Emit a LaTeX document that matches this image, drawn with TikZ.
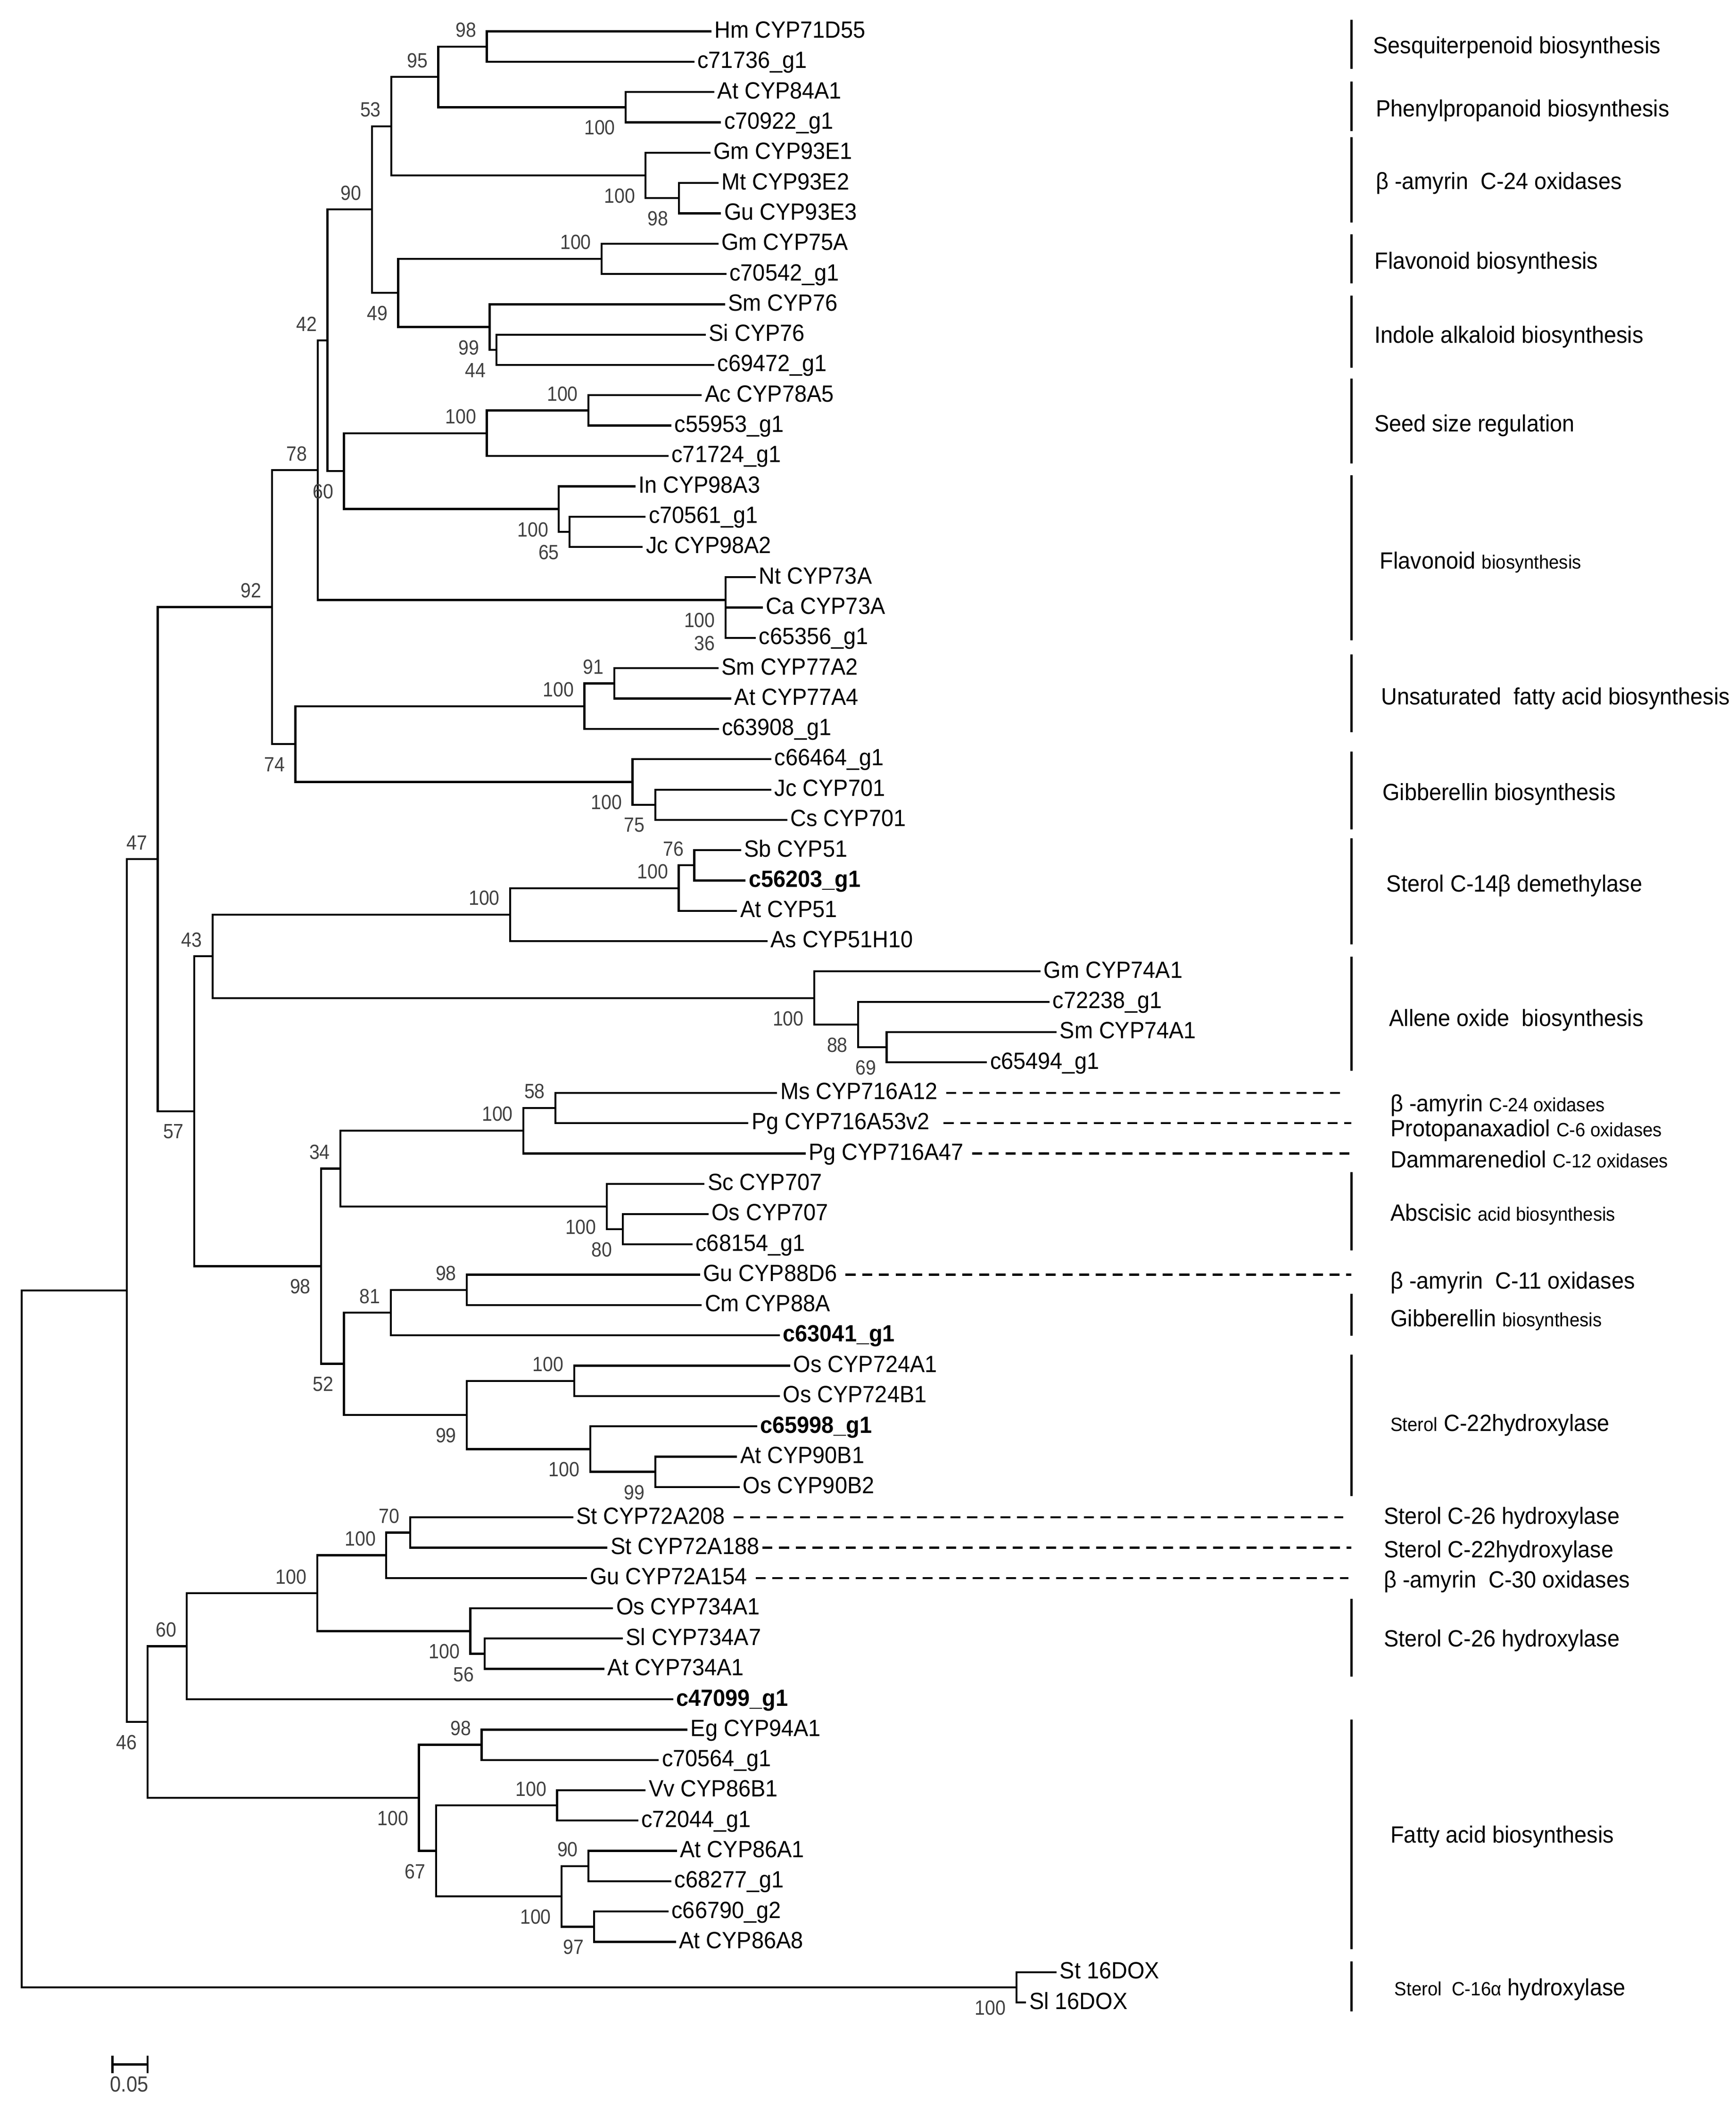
\documentclass[tikz,border=0pt]{standalone}
\usepackage{fontspec}
\setmainfont{Liberation Sans}[FakeStretch=0.94]
\newfontfamily\bsfont{Liberation Sans}[FakeStretch=0.9]
\usepackage{tikz}
\usetikzlibrary{positioning}
\newcommand{\smtxt}[1]{{\fontsize{7.2}{8}\selectfont #1}}
\tikzset{branch/.style={line width=0.75pt}}
\tikzset{leaf/.style={anchor=west, inner xsep=1pt, inner ysep=0pt, text height=6.3pt, text depth=1.4pt, font=\fontsize{8.8}{10}\selectfont}}
\tikzset{leafb/.style={leaf, font=\fontsize{8.8}{10}\selectfont\bfseries}}
\tikzset{bslab/.style={inner sep=0pt, text=black!75, font=\bsfont\fontsize{7.7}{9}\selectfont, xshift=-3.75pt}}
\tikzset{bsup/.style={bslab, anchor=south east, yshift=3.25pt}}
\tikzset{bslo/.style={bslab, anchor=north east, yshift=-4.75pt}}
\tikzset{annot/.style={anchor=west, inner sep=0pt, text height=6.3pt, text depth=0pt, font=\fontsize{8.8}{10}\selectfont}}
\tikzset{dashlink/.style={line width=0.75pt, dash pattern=on 3.75pt off 2.5pt, shorten <=2pt}}
\tikzset{groupbar/.style={line width=0.9pt}}

\begin{document}
\begin{tikzpicture}[x=0.5pt, y=-0.5pt]
    \useasboundingbox (0,0) rectangle (1300.1,1579.4);

    % leaves
    \node [leaf](L1) at (532.7,23.5){Hm CYP71D55};
    \node [leaf](L2) at (520.0,46.2){c71736\_g1};
    \node [leaf](L3) at (535.0,68.9){At CYP84A1};
    \node [leaf](L4) at (540.0,91.6){c70922\_g1};
    \node [leaf](L5) at (532.0,114.3){Gm CYP93E1};
    \node [leaf](L6) at (538.0,137.1){Mt CYP93E2};
    \node [leaf](L7) at (540.0,159.8){Gu CYP93E3};
    \node [leaf](L8) at (538.0,182.5){Gm CYP75A};
    \node [leaf](L9) at (544.0,205.2){c70542\_g1};
    \node [leaf](L10) at (543.0,227.9){Sm CYP76};
    \node [leaf](L11) at (528.5,250.6){Si CYP76};
    \node [leaf](L12) at (535.0,273.3){c69472\_g1};
    \node [leaf](L13) at (525.5,296.0){Ac CYP78A5};
    \node [leaf](L14) at (502.8,318.7){c55953\_g1};
    \node [leaf](L15) at (500.6,341.4){c71724\_g1};
    \node [leaf](L16) at (475.8,364.2){In CYP98A3};
    \node [leaf](L17) at (483.5,386.9){c70561\_g1};
    \node [leaf](L18) at (481.4,409.6){Jc CYP98A2};
    \node [leaf](L19) at (566.0,432.3){Nt CYP73A};
    \node [leaf](L20) at (571.3,455.0){Ca CYP73A};
    \node [leaf](L21) at (566.0,477.7){c65356\_g1};
    \node [leaf](L22) at (538.0,500.4){Sm CYP77A2};
    \node [leaf](L23) at (547.7,523.1){At CYP77A4};
    \node [leaf](L24) at (538.3,545.8){c63908\_g1};
    \node [leaf](L25) at (577.7,568.5){c66464\_g1};
    \node [leaf](L26) at (577.7,591.3){Jc CYP701};
    \node [leaf](L27) at (589.6,614.0){Cs CYP701};
    \node [leaf](L28) at (555.0,636.7){Sb CYP51};
    \node [leafb](L29) at (558.4,659.4){c56203\_g1};
    \node [leaf](L30) at (552.0,682.1){At CYP51};
    \node [leaf](L31) at (574.7,704.8){As CYP51H10};
    \node [leaf](L32) at (779.3,727.5){Gm CYP74A1};
    \node [leaf](L33) at (786.0,750.2){c72238\_g1};
    \node [leaf](L34) at (791.3,772.9){Sm CYP74A1};
    \node [leaf](L35) at (739.1,795.6){c65494\_g1};
    \node [leaf](L36) at (582.0,818.4){Ms CYP716A12};
    \node [leaf](L37) at (560.5,841.1){Pg CYP716A53v2};
    \node [leaf](L38) at (603.3,863.8){Pg CYP716A47};
    \node [leaf](L39) at (527.6,886.5){Sc CYP707};
    \node [leaf](L40) at (530.6,909.2){Os CYP707};
    \node [leaf](L41) at (518.6,931.9){c68154\_g1};
    \node [leaf](L42) at (524.2,954.6){Gu CYP88D6};
    \node [leaf](L43) at (525.5,977.3){Cm CYP88A};
    \node [leafb](L44) at (584.0,1000.0){c63041\_g1};
    \node [leaf](L45) at (591.8,1022.7){Os CYP724A1};
    \node [leaf](L46) at (584.0,1045.5){Os CYP724B1};
    \node [leafb](L47) at (567.0,1068.2){c65998\_g1};
    \node [leaf](L48) at (552.0,1090.9){At CYP90B1};
    \node [leaf](L49) at (554.0,1113.6){Os CYP90B2};
    \node [leaf](L50) at (429.2,1136.3){St CYP72A208};
    \node [leaf](L51) at (454.9,1159.0){St CYP72A188};
    \node [leaf](L52) at (439.5,1181.7){Gu CYP72A154};
    \node [leaf](L53) at (459.1,1204.4){Os CYP734A1};
    \node [leaf](L54) at (466.4,1227.1){Sl CYP734A7};
    \node [leaf](L55) at (452.7,1249.8){At CYP734A1};
    \node [leafb](L56) at (504.1,1272.6){c47099\_g1};
    \node [leaf](L57) at (514.8,1295.3){Eg CYP94A1};
    \node [leaf](L58) at (493.4,1318.0){c70564\_g1};
    \node [leaf](L59) at (483.5,1340.7){Vv CYP86B1};
    \node [leaf](L60) at (478.0,1363.4){c72044\_g1};
    \node [leaf](L61) at (507.0,1386.1){At CYP86A1};
    \node [leaf](L62) at (502.8,1408.8){c68277\_g1};
    \node [leaf](L63) at (500.6,1431.5){c66790\_g2};
    \node [leaf](L64) at (506.2,1454.2){At CYP86A8};
    \node [leaf](L65) at (791.3,1476.9){St 16DOX};
    \node [leaf](L66) at (768.4,1499.7){Sl 16DOX};

    % internal nodes
    \coordinate (root) at (16.3,1227.4);
    \coordinate (nA) at (95.0,966.5);
    \coordinate (n47) at (118.1,643.4);
    \coordinate (n92) at (203.7,454.6);
    \coordinate (n78) at (237.9,352.1);
    \coordinate (n42) at (245.2,254.9);
    \coordinate (n90) at (278.6,156.9);
    \coordinate (n53) at (293.1,94.5);
    \coordinate (n95) at (328.2,57.6);
    \coordinate (n98a) at (364.6,34.9);
    \coordinate (n100a) at (468.6,80.3);
    \coordinate (n100b) at (483.5,131.4);
    \coordinate (n98b) at (508.4,148.4);
    \coordinate (n49) at (298.2,219.4);
    \coordinate (n100c) at (450.6,193.8);
    \coordinate (n99a) at (366.7,244.9);
    \coordinate (n44) at (371.8,262.0);
    \coordinate (n60a) at (257.6,352.8);
    \coordinate (n100e) at (364.6,324.4);
    \coordinate (n100d) at (440.7,307.4);
    \coordinate (n100f) at (418.5,381.2);
    \coordinate (n65) at (426.6,398.2);
    \coordinate (n100g) at (543.4,449.3);
    \coordinate (n36) at (543.4,466.4);
    \coordinate (n74) at (221.2,557.2);
    \coordinate (n100h) at (437.7,528.8);
    \coordinate (n91) at (460.0,511.8);
    \coordinate (n100i) at (473.7,585.6);
    \coordinate (n75) at (490.8,602.6);
    \coordinate (n57) at (145.5,832.2);
    \coordinate (n43) at (159.2,716.2);
    \coordinate (n100k) at (382.1,684.9);
    \coordinate (n100j) at (508.3,665.1);
    \coordinate (n76) at (519.9,648.0);
    \coordinate (n100l) at (609.8,747.4);
    \coordinate (n88) at (642.7,767.3);
    \coordinate (n69) at (664.0,784.3);
    \coordinate (n98d) at (240.5,948.2);
    \coordinate (n34) at (255.0,875.1);
    \coordinate (n100m) at (392.0,846.7);
    \coordinate (n58) at (416.0,829.7);
    \coordinate (n100n) at (454.4,903.5);
    \coordinate (n80) at (466.4,920.6);
    \coordinate (n52) at (257.6,1021.3);
    \coordinate (n81) at (292.7,983.0);
    \coordinate (n98c) at (349.6,966.0);
    \coordinate (n99c) at (349.6,1059.7);
    \coordinate (n100o) at (430.0,1034.1);
    \coordinate (n100p) at (442.0,1085.2);
    \coordinate (n99b) at (490.8,1102.2);
    \coordinate (n46) at (110.4,1289.6);
    \coordinate (n60b) at (139.9,1232.8);
    \coordinate (n100s) at (237.5,1193.1);
    \coordinate (n100q) at (289.3,1164.7);
    \coordinate (n70) at (307.2,1147.7);
    \coordinate (n100r) at (352.2,1221.5);
    \coordinate (n56) at (362.9,1238.5);
    \coordinate (n100v) at (313.7,1346.4);
    \coordinate (n98e) at (360.7,1306.6);
    \coordinate (n67) at (326.5,1386.1);
    \coordinate (n100t) at (417.2,1352.0);
    \coordinate (n100u) at (420.6,1420.2);
    \coordinate (n90b) at (440.7,1397.5);
    \coordinate (n97) at (445.0,1442.9);
    \coordinate (n100w) at (761.2,1488.3);

    % branches
    \draw[branch] (root) |- (nA);
    \draw[branch] (root) |- (n100w);
    \draw[branch] (nA) |- (n47);
    \draw[branch] (nA) |- (n46);
    \draw[branch] (n47) |- (n92);
    \draw[branch] (n47) |- (n57);
    \draw[branch] (n92) |- (n78);
    \draw[branch] (n92) |- (n74);
    \draw[branch] (n78) |- (n42);
    \draw[branch] (n78) |- (n100g);
    \draw[branch] (n42) |- (n90);
    \draw[branch] (n42) |- (n60a);
    \draw[branch] (n90) |- (n53);
    \draw[branch] (n90) |- (n49);
    \draw[branch] (n53) |- (n95);
    \draw[branch] (n53) |- (n100b);
    \draw[branch] (n95) |- (n98a);
    \draw[branch] (n95) |- (n100a);
    \draw[branch] (n98a) |- (L1);
    \draw[branch] (n98a) |- (L2);
    \draw[branch] (n100a) |- (L3);
    \draw[branch] (n100a) |- (L4);
    \draw[branch] (n100b) |- (L5);
    \draw[branch] (n100b) |- (n98b);
    \draw[branch] (n98b) |- (L6);
    \draw[branch] (n98b) |- (L7);
    \draw[branch] (n49) |- (n100c);
    \draw[branch] (n49) |- (n99a);
    \draw[branch] (n100c) |- (L8);
    \draw[branch] (n100c) |- (L9);
    \draw[branch] (n99a) |- (L10);
    \draw[branch] (n99a) |- (n44);
    \draw[branch] (n44) |- (L11);
    \draw[branch] (n44) |- (L12);
    \draw[branch] (n60a) |- (n100e);
    \draw[branch] (n60a) |- (n100f);
    \draw[branch] (n100e) |- (n100d);
    \draw[branch] (n100e) |- (L15);
    \draw[branch] (n100d) |- (L13);
    \draw[branch] (n100d) |- (L14);
    \draw[branch] (n100f) |- (L16);
    \draw[branch] (n100f) |- (n65);
    \draw[branch] (n65) |- (L17);
    \draw[branch] (n65) |- (L18);
    \draw[branch] (n100g) |- (L19);
    \draw[branch] (n100g) |- (n36);
    \draw[branch] (n36) |- (L20);
    \draw[branch] (n36) |- (L21);
    \draw[branch] (n74) |- (n100h);
    \draw[branch] (n74) |- (n100i);
    \draw[branch] (n100h) |- (n91);
    \draw[branch] (n100h) |- (L24);
    \draw[branch] (n91) |- (L22);
    \draw[branch] (n91) |- (L23);
    \draw[branch] (n100i) |- (L25);
    \draw[branch] (n100i) |- (n75);
    \draw[branch] (n75) |- (L26);
    \draw[branch] (n75) |- (L27);
    \draw[branch] (n57) |- (n43);
    \draw[branch] (n57) |- (n98d);
    \draw[branch] (n43) |- (n100k);
    \draw[branch] (n43) |- (n100l);
    \draw[branch] (n100k) |- (n100j);
    \draw[branch] (n100k) |- (L31);
    \draw[branch] (n100j) |- (n76);
    \draw[branch] (n100j) |- (L30);
    \draw[branch] (n76) |- (L28);
    \draw[branch] (n76) |- (L29);
    \draw[branch] (n100l) |- (L32);
    \draw[branch] (n100l) |- (n88);
    \draw[branch] (n88) |- (L33);
    \draw[branch] (n88) |- (n69);
    \draw[branch] (n69) |- (L34);
    \draw[branch] (n69) |- (L35);
    \draw[branch] (n98d) |- (n34);
    \draw[branch] (n98d) |- (n52);
    \draw[branch] (n34) |- (n100m);
    \draw[branch] (n34) |- (n100n);
    \draw[branch] (n100m) |- (n58);
    \draw[branch] (n100m) |- (L38);
    \draw[branch] (n58) |- (L36);
    \draw[branch] (n58) |- (L37);
    \draw[branch] (n100n) |- (L39);
    \draw[branch] (n100n) |- (n80);
    \draw[branch] (n80) |- (L40);
    \draw[branch] (n80) |- (L41);
    \draw[branch] (n52) |- (n81);
    \draw[branch] (n52) |- (n99c);
    \draw[branch] (n81) |- (n98c);
    \draw[branch] (n81) |- (L44);
    \draw[branch] (n98c) |- (L42);
    \draw[branch] (n98c) |- (L43);
    \draw[branch] (n99c) |- (n100o);
    \draw[branch] (n99c) |- (n100p);
    \draw[branch] (n100o) |- (L45);
    \draw[branch] (n100o) |- (L46);
    \draw[branch] (n100p) |- (L47);
    \draw[branch] (n100p) |- (n99b);
    \draw[branch] (n99b) |- (L48);
    \draw[branch] (n99b) |- (L49);
    \draw[branch] (n46) |- (n60b);
    \draw[branch] (n46) |- (n100v);
    \draw[branch] (n60b) |- (n100s);
    \draw[branch] (n60b) |- (L56);
    \draw[branch] (n100s) |- (n100q);
    \draw[branch] (n100s) |- (n100r);
    \draw[branch] (n100q) |- (n70);
    \draw[branch] (n100q) |- (L52);
    \draw[branch] (n70) |- (L50);
    \draw[branch] (n70) |- (L51);
    \draw[branch] (n100r) |- (L53);
    \draw[branch] (n100r) |- (n56);
    \draw[branch] (n56) |- (L54);
    \draw[branch] (n56) |- (L55);
    \draw[branch] (n100v) |- (n98e);
    \draw[branch] (n100v) |- (n67);
    \draw[branch] (n98e) |- (L57);
    \draw[branch] (n98e) |- (L58);
    \draw[branch] (n67) |- (n100t);
    \draw[branch] (n67) |- (n100u);
    \draw[branch] (n100t) |- (L59);
    \draw[branch] (n100t) |- (L60);
    \draw[branch] (n100u) |- (n90b);
    \draw[branch] (n100u) |- (n97);
    \draw[branch] (n90b) |- (L61);
    \draw[branch] (n90b) |- (L62);
    \draw[branch] (n97) |- (L63);
    \draw[branch] (n97) |- (L64);
    \draw[branch] (n100w) |- (L65);
    \draw[branch] (n100w) |- (L66);

    % bootstrap values
    \node [bsup](b98a) at (n98a){98};
    \node [bsup](b95) at (n95){95};
    \node [bslo](b100a) at (n100a){100};
    \node [bsup](b53) at (n53){53};
    \node [bslo](b100b) at (n100b){100};
    \node [bslo](b98b) at (n98b){98};
    \node [bsup](b90) at (n90){90};
    \node [bsup](b100c) at (n100c){100};
    \node [bslo](b49) at (n49){49};
    \node [bslo](b99a) at (n99a){99};
    \node [bslo](b44) at (n44){44};
    \node [bsup](b42) at (n42){42};
    \node [bsup](b100d) at (n100d){100};
    \node [bsup](b100e) at (n100e){100};
    \node [bslo](b60a) at (n60a){60};
    \node [bslo](b100f) at (n100f){100};
    \node [bslo](b65) at (n65){65};
    \node [bsup](b78) at (n78){78};
    \node [bslo](b100g) at (n100g){100};
    \node [bslo](b36) at (n36){36};
    \node [bsup](b92) at (n92){92};
    \node [bsup](b91) at (n91){91};
    \node [bsup](b100h) at (n100h){100};
    \node [bslo](b74) at (n74){74};
    \node [bslo](b100i) at (n100i){100};
    \node [bslo](b75) at (n75){75};
    \node [bsup](b47) at (n47){47};
    \node [bsup](b76) at (n76){76};
    \node [bsup](b100j) at (n100j){100};
    \node [bsup](b100k) at (n100k){100};
    \node [bsup](b43) at (n43){43};
    \node [bslo](b100l) at (n100l){100};
    \node [bslo](b88) at (n88){88};
    \node [bslo](b69) at (n69){69};
    \node [bslo](b57) at (n57){57};
    \node [bsup](b58) at (n58){58};
    \node [bsup](b100m) at (n100m){100};
    \node [bsup](b34) at (n34){34};
    \node [bslo](b100n) at (n100n){100};
    \node [bslo](b80) at (n80){80};
    \node [bslo](b98d) at (n98d){98};
    \node [bsup](b98c) at (n98c){98};
    \node [bsup](b81) at (n81){81};
    \node [bslo](b52) at (n52){52};
    \node [bsup](b100o) at (n100o){100};
    \node [bslo](b99c) at (n99c){99};
    \node [bslo](b100p) at (n100p){100};
    \node [bslo](b99b) at (n99b){99};
    \node [bsup](b70) at (n70){70};
    \node [bsup](b100q) at (n100q){100};
    \node [bsup](b100s) at (n100s){100};
    \node [bslo](b100r) at (n100r){100};
    \node [bslo](b56) at (n56){56};
    \node [bsup](b60b) at (n60b){60};
    \node [bslo](b46) at (n46){46};
    \node [bsup](b98e) at (n98e){98};
    \node [bslo](b100v) at (n100v){100};
    \node [bsup](b100t) at (n100t){100};
    \node [bslo](b67) at (n67){67};
    \node [bsup](b90b) at (n90b){90};
    \node [bslo](b100u) at (n100u){100};
    \node [bslo](b97) at (n97){97};
    \node [bslo](b100w) at (n100w){100};

    % dashed links to single annotations
    \coordinate (E36) at (1007.2,818.4);
    \coordinate (E37) at (1012.0,841.1);
    \coordinate (E38) at (1012.0,863.8);
    \coordinate (E42) at (1012.0,954.6);
    \coordinate (E50) at (1006.0,1136.3);
    \coordinate (E51) at (1012.0,1159.0);
    \coordinate (E52) at (1010.0,1181.7);
    \draw[dashlink] (L36) -- (E36);
    \draw[dashlink, shorten <=4pt] (L37) -- (E37);
    \draw[dashlink] (L38) -- (E38);
    \draw[dashlink] (L42) -- (E42);
    \draw[dashlink] (L50) -- (E50);
    \draw[dashlink, shorten <=0pt] (L51) -- (E51);
    \draw[dashlink] (L52) -- (E52);

    % group bars
    \draw[groupbar] (1012,14.7) -- (1012,51.6);
    \draw[groupbar] (1012,61.0) -- (1012,98.0);
    \draw[groupbar] (1012,102.9) -- (1012,166.6);
    \draw[groupbar] (1012,175.4) -- (1012,212.3);
    \draw[groupbar] (1012,221.4) -- (1012,275.3);
    \draw[groupbar] (1012,283.5) -- (1012,347.2);
    \draw[groupbar] (1012,356.0) -- (1012,479.5);
    \draw[groupbar] (1012,490.0) -- (1012,548.4);
    \draw[groupbar] (1012,563.0) -- (1012,621.0);
    \draw[groupbar] (1012,627.8) -- (1012,707.2);
    \draw[groupbar] (1012,716.3) -- (1012,801.8);
    \draw[groupbar] (1012,877.8) -- (1012,936.3);
    \draw[groupbar] (1012,969.0) -- (1012,1000.4);
    \draw[groupbar] (1012,1014.6) -- (1012,1120.4);
    \draw[groupbar] (1012,1197.2) -- (1012,1255.7);
    \draw[groupbar] (1012,1287.8) -- (1012,1459.6);
    \draw[groupbar] (1012,1468.8) -- (1012,1506.4);

    % annotations
    \node [annot](A1) at (1028,33.6){Sesquiterpenoid biosynthesis};
    \node [annot](A2) at (1030,81.0){Phenylpropanoid biosynthesis};
    \node [annot](A3) at (1030,135.5){β -amyrin~ C-24 oxidases};
    \node [annot](A4) at (1029,195.3){Flavonoid biosynthesis};
    \node [annot](A5) at (1029,250.5){Indole alkaloid biosynthesis};
    \node [annot](A6) at (1029,316.8){Seed size regulation};
    \node [annot](A7) at (1033,419.7){Flavonoid \smtxt{biosynthesis}};
    \node [annot](A8) at (1034,521.4){Unsaturated~ fatty acid biosynthesis};
    \node [annot](A9) at (1035,593.0){Gibberellin biosynthesis};
    \node [annot](A10) at (1038,661.6){Sterol C-14β demethylase};
    \node [annot](A11) at (1040,762.3){Allene oxide~ biosynthesis};
    \node [annot](A12) at (1041,826.1){β -amyrin \smtxt{C-24 oxidases}};
    \node [annot](A13) at (1041,845.0){Protopanaxadiol \smtxt{C-6 oxidases}};
    \node [annot](A14) at (1041,868.3){Dammarenediol \smtxt{C-12 oxidases}};
    \node [annot](A15) at (1041,908.2){Abscisic \smtxt{acid biosynthesis}};
    \node [annot](A16) at (1041,958.9){β -amyrin~ C-11 oxidases};
    \node [annot](A17) at (1041,987.0){Gibberellin \smtxt{biosynthesis}};
    \node [annot](A18) at (1041,1065.6){\smtxt{Sterol} C-22hydroxylase};
    \node [annot](A19) at (1036,1135.0){Sterol C-26 hydroxylase};
    \node [annot](A20) at (1036,1160.0){Sterol C-22hydroxylase};
    \node [annot](A21) at (1036,1182.6){β -amyrin~ C-30 oxidases};
    \node [annot](A22) at (1036,1226.8){Sterol C-26 hydroxylase};
    \node [annot](A23) at (1041,1373.7){Fatty acid biosynthesis};
    \node [annot](A24) at (1044,1488.1){\smtxt{Sterol~ C-16α} hydroxylase};

    % scale bar
    \draw[branch] (84.2,1546) -- (110.6,1546);
    \draw[branch] (84.2,1539.5) -- (84.2,1552.5);
    \draw[branch] (110.6,1539.5) -- (110.6,1552.5);
    \node [inner sep=0pt, text=black!75, font=\bsfont\fontsize{8.2}{9}\selectfont](scale) at (96.8,1560.7){0.05};
\end{tikzpicture}
\end{document}
